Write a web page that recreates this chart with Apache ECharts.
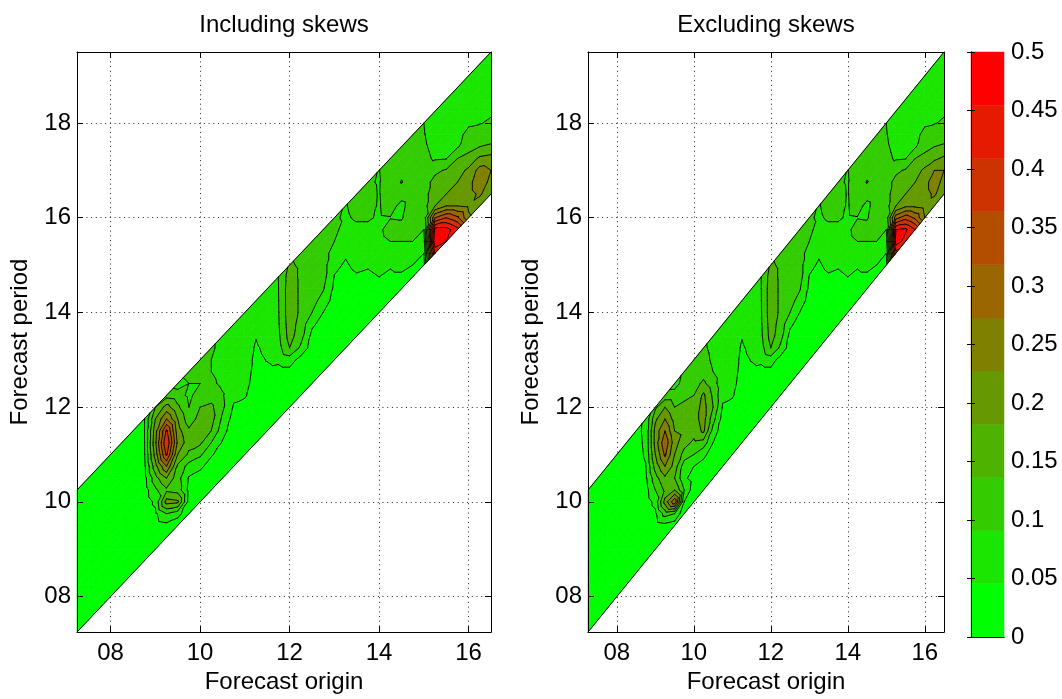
<!DOCTYPE html>
<html><head><meta charset="utf-8">
<script src="https://cdn.jsdelivr.net/npm/echarts@6/dist/echarts.min.js"></script>
<style>html,body{margin:0;padding:0;background:#fff}#c{width:1062px;height:699px}</style>
</head><body><div id="c"></div>
<script>
// ---------------- data ----------------
const origins = [7.25,7.5,7.75,8,8.25,8.5,8.75,9,9.25,9.5,9.75,10,10.25,10.5,10.75,11,11.25,11.5,11.75,12,12.25,12.5,12.75,13,13.25,13.5,13.75,14,14.25,14.5,14.75,15,15.25,15.5,15.75,16,16.25,16.5];
const leads = [0,0.25,0.5,0.75,1,1.25,1.5,1.75,2,2.25,2.5,2.75,3];
const levels = [0,0.05,0.1,0.15,0.2,0.25,0.3,0.35,0.4,0.45,0.5];
const levelColors = ['#00ff00','#1ae600','#33cc00','#4db300','#669900','#808000','#996600','#b34d00','#cc3300','#e61a00','#ff0000'];
const xTicks = [8,10,12,14,16];
const yTicks = [8,10,12,14,16,18];
const cbarTicks = [0,0.05,0.1,0.15,0.2,0.25,0.3,0.35,0.4,0.45,0.5];
const titles = ['Including skews','Excluding skews'];

// rows: forecast origin; columns: lead 0..3 days (period = origin + lead)
const inclSkews = [
[0.005,0.008,0.01,0.012,0.014,0.015,0.017,0.018,0.02,0.02,0.022,0.024,0.025],
[0.005,0.008,0.01,0.012,0.014,0.016,0.018,0.02,0.021,0.022,0.024,0.025,0.026],
[0.006,0.009,0.011,0.013,0.015,0.017,0.019,0.021,0.022,0.024,0.026,0.028,0.03],
[0.006,0.009,0.011,0.013,0.015,0.018,0.02,0.022,0.024,0.026,0.028,0.03,0.032],
[0.007,0.01,0.012,0.014,0.016,0.019,0.021,0.023,0.026,0.028,0.03,0.032,0.034],
[0.008,0.01,0.013,0.015,0.018,0.02,0.023,0.026,0.029,0.032,0.034,0.036,0.038],
[0.01,0.012,0.015,0.018,0.02,0.022,0.025,0.03,0.035,0.04,0.042,0.044,0.045],
[0.01,0.015,0.025,0.04,0.06,0.09,0.13,0.18,0.22,0.24,0.23,0.2,0.15],
[0.015,0.035,0.1,0.22,0.14,0.2,0.3,0.41,0.45,0.41,0.3,0.22,0.13],
[0.015,0.07,0.21,0.13,0.12,0.14,0.2,0.24,0.22,0.2,0.16,0.12,0.08],
[0.01,0.03,0.035,0.045,0.08,0.14,0.17,0.16,0.12,0.1,0.09,0.1,0.12],
[0.01,0.02,0.03,0.06,0.11,0.16,0.18,0.17,0.15,0.12,0.1,0.1,0.11],
[0.01,0.02,0.03,0.055,0.1,0.15,0.17,0.16,0.13,0.11,0.1,0.1,0.11],
[0.01,0.02,0.03,0.045,0.07,0.09,0.11,0.105,0.09,0.085,0.08,0.08,0.08],
[0.01,0.012,0.015,0.02,0.03,0.045,0.06,0.07,0.075,0.075,0.075,0.075,0.075],
[0.01,0.012,0.015,0.02,0.035,0.055,0.065,0.07,0.07,0.07,0.07,0.07,0.075],
[0.01,0.012,0.015,0.02,0.025,0.03,0.035,0.04,0.045,0.052,0.06,0.065,0.07],
[0.01,0.012,0.015,0.02,0.03,0.04,0.052,0.06,0.07,0.075,0.08,0.085,0.09],
[0.01,0.012,0.015,0.02,0.035,0.06,0.08,0.09,0.095,0.097,0.098,0.099,0.1],
[0.01,0.015,0.02,0.035,0.075,0.15,0.17,0.175,0.18,0.18,0.18,0.175,0.16],
[0.01,0.015,0.02,0.03,0.09,0.12,0.13,0.14,0.14,0.14,0.14,0.14,0.13],
[0.01,0.015,0.02,0.025,0.035,0.06,0.1,0.12,0.13,0.13,0.13,0.13,0.12],
[0.01,0.015,0.02,0.025,0.03,0.05,0.08,0.105,0.12,0.12,0.12,0.12,0.11],
[0.01,0.012,0.015,0.02,0.025,0.03,0.04,0.048,0.06,0.08,0.1,0.11,0.105],
[0.01,0.012,0.015,0.02,0.025,0.03,0.035,0.045,0.055,0.07,0.085,0.095,0.098],
[0.01,0.012,0.015,0.02,0.03,0.045,0.06,0.07,0.08,0.09,0.105,0.11,0.11],
[0.01,0.015,0.02,0.03,0.04,0.055,0.07,0.08,0.09,0.105,0.11,0.11,0.105],
[0.01,0.02,0.035,0.05,0.065,0.075,0.085,0.09,0.095,0.097,0.098,0.097,0.099],
[0.01,0.025,0.04,0.055,0.075,0.1,0.12,0.098,0.12,0.12,0.13,0.12,0.12],
[0.02,0.04,0.065,0.085,0.1,0.12,0.095,0.085,0.12,0.152,0.14,0.13,0.12],
[0.03,0.05,0.08,0.1,0.12,0.13,0.13,0.13,0.13,0.13,0.13,0.12,0.11],
[0.03,0.05,0.08,0.1,0.12,0.13,0.13,0.13,0.12,0.11,0.105,0.102,0.1],
[0.45,0.55,0.52,0.35,0.2,0.18,0.165,0.14,0.095,0.09,0.085,0.08,0.08],
[0.5,0.52,0.4,0.25,0.2,0.17,0.155,0.098,0.09,0.085,0.08,0.08,0.08],
[0.47,0.36,0.25,0.22,0.2,0.18,0.15,0.095,0.09,0.085,0.08,0.08,0.08],
[0.26,0.24,0.23,0.23,0.21,0.17,0.13,0.11,0.095,0.09,0.085,0.08,0.08],
[0.21,0.26,0.29,0.27,0.21,0.15,0.12,0.098,0.09,0.085,0.08,0.08,0.08],
[0.2,0.23,0.25,0.22,0.16,0.12,0.105,0.095,0.09,0.085,0.08,0.08,0.08]
];
const exclSkews = [
[0.005,0.008,0.01,0.012,0.014,0.015,0.017,0.018,0.02,0.02,0.022,0.024,0.025],
[0.005,0.008,0.01,0.012,0.014,0.016,0.018,0.02,0.021,0.022,0.024,0.025,0.026],
[0.006,0.009,0.011,0.013,0.015,0.017,0.019,0.021,0.022,0.024,0.026,0.028,0.03],
[0.006,0.009,0.011,0.013,0.015,0.018,0.02,0.022,0.024,0.026,0.028,0.03,0.032],
[0.007,0.01,0.012,0.014,0.016,0.019,0.021,0.023,0.026,0.028,0.03,0.032,0.034],
[0.008,0.01,0.013,0.015,0.018,0.02,0.023,0.026,0.029,0.032,0.034,0.036,0.038],
[0.01,0.012,0.015,0.018,0.02,0.025,0.03,0.04,0.048,0.055,0.058,0.06,0.058],
[0.01,0.015,0.025,0.04,0.065,0.1,0.13,0.17,0.2,0.22,0.22,0.19,0.14],
[0.015,0.035,0.12,0.22,0.16,0.19,0.25,0.31,0.34,0.3,0.25,0.2,0.12],
[0.02,0.1,0.34,0.2,0.15,0.18,0.2,0.22,0.2,0.18,0.15,0.12,0.08],
[0.01,0.05,0.1,0.06,0.07,0.13,0.17,0.19,0.18,0.16,0.14,0.12,0.11],
[0.01,0.02,0.03,0.05,0.1,0.14,0.17,0.18,0.17,0.15,0.13,0.12,0.11],
[0.01,0.02,0.035,0.06,0.13,0.21,0.22,0.22,0.21,0.16,0.13,0.12,0.11],
[0.01,0.02,0.03,0.05,0.08,0.12,0.15,0.14,0.12,0.1,0.09,0.085,0.08],
[0.01,0.012,0.015,0.02,0.03,0.045,0.06,0.07,0.075,0.075,0.075,0.075,0.075],
[0.01,0.012,0.015,0.02,0.035,0.055,0.065,0.07,0.07,0.07,0.07,0.07,0.075],
[0.01,0.012,0.015,0.02,0.025,0.03,0.035,0.04,0.045,0.052,0.06,0.065,0.07],
[0.01,0.012,0.015,0.02,0.03,0.04,0.052,0.06,0.07,0.075,0.08,0.085,0.09],
[0.01,0.012,0.015,0.02,0.035,0.06,0.08,0.09,0.095,0.097,0.098,0.099,0.1],
[0.01,0.015,0.02,0.035,0.075,0.15,0.17,0.175,0.18,0.18,0.18,0.175,0.16],
[0.01,0.015,0.02,0.03,0.09,0.12,0.13,0.14,0.14,0.14,0.14,0.14,0.13],
[0.01,0.015,0.02,0.025,0.035,0.06,0.1,0.12,0.13,0.13,0.13,0.13,0.12],
[0.01,0.015,0.02,0.025,0.03,0.05,0.08,0.105,0.12,0.12,0.12,0.12,0.11],
[0.01,0.012,0.015,0.02,0.025,0.03,0.04,0.048,0.06,0.08,0.1,0.11,0.105],
[0.01,0.012,0.015,0.02,0.025,0.03,0.035,0.045,0.055,0.07,0.085,0.095,0.098],
[0.01,0.012,0.015,0.02,0.03,0.045,0.06,0.07,0.08,0.09,0.105,0.11,0.11],
[0.01,0.015,0.02,0.03,0.04,0.055,0.07,0.08,0.09,0.105,0.11,0.11,0.105],
[0.01,0.02,0.035,0.05,0.065,0.075,0.085,0.09,0.095,0.097,0.098,0.097,0.099],
[0.01,0.025,0.04,0.055,0.075,0.1,0.12,0.098,0.12,0.12,0.13,0.12,0.12],
[0.02,0.04,0.065,0.085,0.1,0.12,0.095,0.085,0.12,0.152,0.14,0.13,0.12],
[0.03,0.05,0.08,0.1,0.12,0.13,0.13,0.13,0.13,0.13,0.13,0.12,0.11],
[0.03,0.05,0.08,0.1,0.12,0.13,0.13,0.13,0.12,0.11,0.105,0.102,0.1],
[0.43,0.53,0.5,0.33,0.2,0.18,0.165,0.14,0.095,0.09,0.085,0.08,0.08],
[0.48,0.51,0.38,0.24,0.2,0.17,0.155,0.098,0.09,0.085,0.08,0.08,0.08],
[0.45,0.34,0.24,0.22,0.2,0.18,0.15,0.095,0.09,0.085,0.08,0.08,0.08],
[0.25,0.23,0.23,0.23,0.21,0.17,0.13,0.11,0.095,0.09,0.085,0.08,0.08],
[0.21,0.26,0.28,0.25,0.19,0.15,0.12,0.098,0.09,0.085,0.08,0.08,0.08],
[0.2,0.23,0.25,0.21,0.16,0.12,0.105,0.095,0.09,0.085,0.08,0.08,0.08]
];

// ---------------- helpers ----------------
const FONT = 'Liberation Sans, Arial, Helvetica, sans-serif';
function pad2(v){ return v < 10 ? '0' + v : String(v); }

function clipPoly(poly, L, keepAbove){
  const out = [];
  const n = poly.length;
  for (let a = 0; a < n; a++){
    const P = poly[a], Q = poly[(a + 1) % n];
    const pin = keepAbove ? P.f >= L : P.f < L;
    const qin = keepAbove ? Q.f >= L : Q.f < L;
    if (pin) out.push(P);
    if (pin !== qin){
      const t = (L - P.f) / (Q.f - P.f);
      out.push({x: P.x + t * (Q.x - P.x), y: P.y + t * (Q.y - P.y), f: L});
    }
  }
  return out;
}
function cellTriangles(Z, i, j){
  const node = (a, b) => ({x: origins[a], y: origins[a] + leads[b], f: Z[a][b]});
  const A = node(i, j), B = node(i, j + 1), C = node(i + 1, j), D = node(i + 1, j + 1);
  return [[A, B, C], [B, C, D]];
}
function fillRenderer(Z){
  return function(params, api){
    const i = api.value(2), j = api.value(3);
    const children = [];
    cellTriangles(Z, i, j).forEach(tri => {
      for (let k = 0; k < levelColors.length; k++){
        let poly = tri;
        if (k > 0) poly = clipPoly(poly, levels[k], true);
        if (poly.length < 3) continue;
        if (k < levelColors.length - 1) poly = clipPoly(poly, levels[k + 1], false);
        if (poly.length < 3) continue;
        const pts = poly.map(p => api.coord([p.x, p.y]));
        children.push({type: 'polygon', shape: {points: pts},
          style: {fill: levelColors[k], stroke: levelColors[k], lineWidth: 0.7}});
      }
    });
    return {type: 'group', children};
  };
}
function lineRenderer(Z){
  return function(params, api){
    const i = api.value(2), j = api.value(3);
    const children = [];
    cellTriangles(Z, i, j).forEach(tri => {
      for (let k = 1; k < levels.length; k++){
        const L = levels[k];
        const pts = [];
        for (let e = 0; e < 3; e++){
          const P = tri[e], Q = tri[(e + 1) % 3];
          const pa = P.f >= L, qa = Q.f >= L;
          if (pa !== qa){
            const t = (L - P.f) / (Q.f - P.f);
            pts.push(api.coord([P.x + t * (Q.x - P.x), P.y + t * (Q.y - P.y)]));
          }
        }
        if (pts.length === 2){
          children.push({type: 'line', shape: {x1: pts[0][0], y1: pts[0][1], x2: pts[1][0], y2: pts[1][1]},
            style: {stroke: '#000', lineWidth: 0.9, lineCap: 'round'}});
        }
      }
    });
    return {type: 'group', children};
  };
}
function cellData(){
  const d = [];
  for (let i = 0; i < origins.length - 1; i++)
    for (let j = 0; j < leads.length - 1; j++)
      d.push([origins[i], origins[i] + leads[j], i, j]);
  return d;
}

// ---------------- layout ----------------
const panels = [
  {grid: {left: 77, top: 52, width: 414, height: 589}, Z: inclSkews},
  {grid: {left: 588, top: 52, width: 356, height: 584}, Z: exclSkews}
];
const xMin = origins[0], xMax = origins[origins.length - 1];
const yMin = origins[0] + leads[0], yMax = origins[origins.length - 1] + leads[leads.length - 1];

const grids = [], xAxes = [], yAxes = [], series = [], graphics = [];
const lineAx = {show: true, lineStyle: {color: '#000', width: 1}};
const tickIn = (vals) => ({show: true, inside: true, length: 6, customValues: vals, lineStyle: {color: '#000', width: 1}});
const labelStyle = {color: '#000', fontSize: 24, fontFamily: FONT};

panels.forEach((p, pi) => {
  grids.push(p.grid);
  const g = pi;
  const bx = xAxes.length, by = yAxes.length;
  xAxes.push({gridIndex: g, type: 'value', position: 'bottom', min: xMin, max: xMax, z: 10,
    axisLine: lineAx, axisTick: tickIn(xTicks),
    axisLabel: Object.assign({customValues: xTicks, margin: 9, formatter: v => pad2(v)}, labelStyle),
    splitLine: {show: false},
    name: 'Forecast origin', nameLocation: 'middle', nameGap: 35,
    nameTextStyle: {color: '#000', fontSize: 24, fontFamily: FONT}});
  xAxes.push({gridIndex: g, type: 'value', position: 'top', min: xMin, max: xMax, z: 10,
    axisLine: lineAx, axisTick: tickIn(xTicks), axisLabel: {show: false}, splitLine: {show: false}});
  xAxes.push({gridIndex: g, type: 'value', position: 'bottom', min: xMin, max: xMax, z: 0,
    axisLine: {show: false}, axisTick: {show: false, customValues: xTicks}, axisLabel: {show: false, customValues: xTicks},
    splitLine: {show: true, lineStyle: {color: '#222', width: 1, type: [1, 3.7]}}});
  yAxes.push({gridIndex: g, type: 'value', position: 'left', min: yMin, max: yMax, z: 10,
    axisLine: lineAx, axisTick: tickIn(yTicks),
    axisLabel: Object.assign({customValues: yTicks, margin: 6, formatter: v => pad2(v)}, labelStyle),
    splitLine: {show: false},
    name: 'Forecast period', nameLocation: 'middle', nameGap: 45, nameRotate: 90,
    nameTextStyle: {color: '#000', fontSize: 24, fontFamily: FONT}});
  yAxes.push({gridIndex: g, type: 'value', position: 'right', min: yMin, max: yMax, z: 10,
    axisLine: lineAx, axisTick: tickIn(yTicks), axisLabel: {show: false}, splitLine: {show: false}});
  yAxes.push({gridIndex: g, type: 'value', position: 'left', min: yMin, max: yMax, z: 0,
    axisLine: {show: false}, axisTick: {show: false, customValues: yTicks}, axisLabel: {show: false, customValues: yTicks},
    splitLine: {show: true, lineStyle: {color: '#222', width: 1, type: [1, 3.7]}}});

  const cells = cellData();
  series.push({type: 'custom', xAxisIndex: bx, yAxisIndex: by, z: 2, silent: true, animation: false,
    renderItem: fillRenderer(p.Z), encode: {x: 0, y: 1}, data: cells});
  series.push({type: 'custom', xAxisIndex: bx, yAxisIndex: by, z: 3, silent: true, animation: false,
    renderItem: lineRenderer(p.Z), encode: {x: 0, y: 1}, data: cells});
  const l0 = leads[0], l1 = leads[leads.length - 1];
  [l0, l1].forEach(l => {
    series.push({type: 'line', xAxisIndex: bx, yAxisIndex: by, z: 4, silent: true, animation: false,
      symbol: 'none', lineStyle: {color: '#000', width: 1},
      data: [[xMin, xMin + l], [xMax, xMax + l]]});
  });
  const gr = p.grid;
  graphics.push({type: 'text', x: gr.left + gr.width / 2, y: 25,
    style: {text: titles[pi], fill: '#000', fontSize: 24, fontFamily: FONT, align: 'center', verticalAlign: 'middle',
      textAlign: 'center', textVerticalAlign: 'middle'}});
});

// colorbar
const cbMax = cbarTicks[cbarTicks.length - 1];
grids.push({left: 971, top: 52, width: 33, height: 585});
const cg = grids.length - 1;
const cbx = xAxes.length, cby = yAxes.length;
xAxes.push({gridIndex: cg, type: 'value', min: 0, max: 1, position: 'bottom', z: 10,
  axisLine: lineAx, axisTick: {show: false}, axisLabel: {show: false}, splitLine: {show: false}});
xAxes.push({gridIndex: cg, type: 'value', min: 0, max: 1, position: 'top', z: 10,
  axisLine: lineAx, axisTick: {show: false}, axisLabel: {show: false}, splitLine: {show: false}});
yAxes.push({gridIndex: cg, type: 'value', min: 0, max: cbMax, interval: 0.05, position: 'right', z: 10,
  axisLine: lineAx, axisTick: {show: true, inside: true, length: 4, lineStyle: {color: '#000'}},
  axisLabel: Object.assign({margin: 7}, labelStyle), splitLine: {show: false}});
yAxes.push({gridIndex: cg, type: 'value', min: 0, max: cbMax, interval: 0.05, position: 'left', z: 10,
  axisLine: lineAx, axisTick: {show: true, inside: true, length: 4, lineStyle: {color: '#000'}},
  axisLabel: {show: false}, splitLine: {show: false}});
const nC = levelColors.length;
const cbData = levelColors.map((c, k) => [0.5, (k + 0.5) * cbMax / nC, k]);
series.push({type: 'custom', xAxisIndex: cbx, yAxisIndex: cby, z: 2, silent: true, animation: false,
  encode: {x: 0, y: 1}, data: cbData,
  renderItem: function(params, api){
    const k = api.value(2);
    const p1 = api.coord([0, (k + 1) * cbMax / nC]);
    const p2 = api.coord([1, k * cbMax / nC]);
    return {type: 'rect', shape: {x: p1[0], y: p1[1], width: p2[0] - p1[0], height: p2[1] - p1[1]},
      style: {fill: levelColors[k], stroke: levelColors[k], lineWidth: 0.5}};
  }});

const chart = echarts.init(document.getElementById('c'), null, {renderer: 'canvas', width: 1062, height: 699});
chart.setOption({
  backgroundColor: '#ffffff',
  animation: false,
  textStyle: {fontFamily: FONT},
  grid: grids,
  xAxis: xAxes,
  yAxis: yAxes,
  series: series,
  graphic: graphics
});
</script>
</body></html>
